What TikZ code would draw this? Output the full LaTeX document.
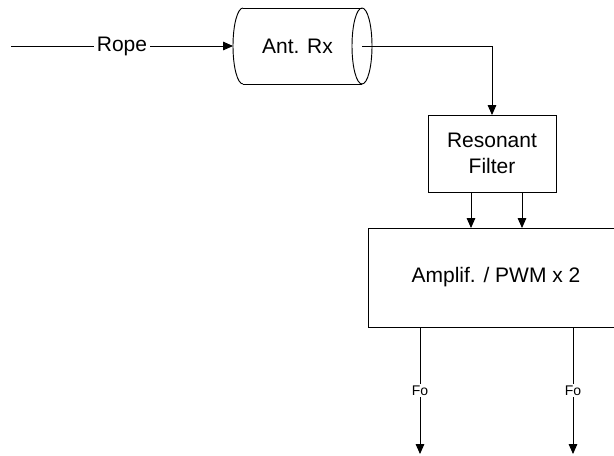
\documentclass[tikz,border=0pt]{standalone}
\usepackage{fontspec}
\setmainfont{Liberation Sans}
\usetikzlibrary{arrows.meta,calc}
\begin{document}
\begin{tikzpicture}[x=0.75pt,y=-0.75pt,
  line width=0.7pt,
  arr/.style={-{Triangle[length=7.5pt,width=6.5pt]}},
  box/.style={draw,inner sep=0pt,outer sep=0pt,align=center,font=\fontsize{15.75}{19.5}\selectfont},
  lbl/.style={fill=white,inner sep=2pt,font=\fontsize{15.75}{19}\selectfont},
  small/.style={fill=white,inner sep=1pt,font=\fontsize{10.5}{12}\selectfont}]
\useasboundingbox (0,0) rectangle (614,455);
\fill[white] (0,0) rectangle (614,455);
\clip (0,0) rectangle (614,455);
% Antenna cylinder
\node[inner sep=0pt,outer sep=0pt,minimum width=96.75pt,minimum height=57pt,
  font=\fontsize{15.75}{19}\selectfont] (ant) at (297.5,46) {Ant. Rx};
\draw ([xshift=7.5pt]ant.north west) -- (ant.north east);
\draw ([xshift=7.5pt]ant.south west) -- (ant.south east);
\draw ([xshift=7.5pt]ant.north west) arc[start angle=90,end angle=270,x radius=7.5pt,y radius=28.5pt];
\draw (ant.east) ellipse[x radius=7.5pt,y radius=28.5pt];
% start of rope line
\coordinate (start) at (11,46);
\draw[arr] (start) -- node[lbl]{Rope} (ant.west);
% filter
\node[box,minimum width=96pt,minimum height=57.75pt] (filter) at (492,153.5) {Resonant\\Filter};
\draw[arr] (ant.east) -| (filter.north);
% amplifier
\node[box,minimum width=192pt,minimum height=74.25pt] (amp) at (496,277.5) {Amplif. / PWM x 2};
\draw[arr] ($(filter.south)+(-21,0)$) coordinate (f1) -- (f1 |- amp.north);
\draw[arr] ($(filter.south)+(30,0)$) coordinate (f2) -- (f2 |- amp.north);
% outputs
\coordinate (o1) at (420,454);
\coordinate (o2) at (573,454);
\draw[arr] (o1 |- amp.south) -- node[small]{Fo} (o1);
\draw[arr] (o2 |- amp.south) -- node[small]{Fo} (o2);
\end{tikzpicture}
\end{document}
